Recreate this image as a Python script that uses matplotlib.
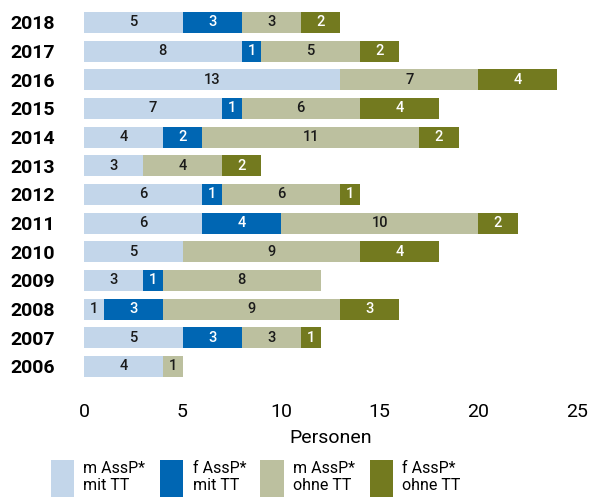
import matplotlib
matplotlib.use("Agg")
import matplotlib.pyplot as plt
import numpy as np

plt.rcParams['font.family'] = ['Roboto', 'DejaVu Sans']

years = ['2018', '2017', '2016', '2015', '2014', '2013', '2012',
         '2011', '2010', '2009', '2008', '2007', '2006']
m_mit = [5, 8, 13, 7, 4, 3, 6, 6, 5, 3, 1, 5, 4]
f_mit = [3, 1, 0, 1, 2, 0, 1, 4, 0, 1, 3, 3, 0]
m_ohne = [3, 5, 7, 6, 11, 4, 6, 10, 9, 8, 9, 3, 1]
f_ohne = [2, 2, 4, 4, 2, 2, 1, 2, 4, 0, 3, 1, 0]

series = [m_mit, f_mit, m_ohne, f_ohne]
labels = ['m AssP*\nmit TT', 'f AssP*\nmit TT', 'm AssP*\nohne TT', 'f AssP*\nohne TT']
colors = ['#c3d6ea', '#0066b3', '#bcc09f', '#737a1f']
text_colors = ['#1a1a1a', 'white', '#1a1a1a', 'white']

fig = plt.figure(figsize=(5.91, 5.03), dpi=100)
ax = fig.add_axes([0.142, 0.243, 0.834, 0.741])

y = np.arange(len(years))
left = np.zeros(len(years))
for vals, lab, col, tc in zip(series, labels, colors, text_colors):
    vals = np.array(vals, dtype=float)
    ax.barh(y, vals, left=left, height=0.73, color=col, label=lab)
    for yi, (l, v) in enumerate(zip(left, vals)):
        if v > 0:
            ax.text(l + v / 2, yi, str(int(v)), ha='center', va='center',
                    fontsize=10.5, color=tc, fontweight='medium')
    left += vals

ax.set_ylim(len(years) - 0.5, -0.5)
ax.set_xlim(0, 25)
ax.set_xticks([0, 5, 10, 15, 20, 25])
ax.set_yticks(y)
ax.set_yticklabels(years, fontsize=14, fontweight='bold', ha='left')
# pad in points: puts the left edge of the year labels ~10 px from the figure edge
ax.tick_params(axis='y', length=0, pad=53)
ax.tick_params(axis='x', length=0, pad=16, labelsize=14)
for s in ax.spines.values():
    s.set_visible(False)
ax.set_xlabel('Personen', fontsize=14, labelpad=6)

fig.legend(loc='upper left', bbox_to_anchor=(0.075, 0.098), ncol=4,
           frameon=False, fontsize=11.5, handlelength=1.45, handleheight=3.2,
           handletextpad=0.6, columnspacing=0.9, labelspacing=0.2,
           borderaxespad=0.0)

plt.savefig('out.png', dpi=100)
